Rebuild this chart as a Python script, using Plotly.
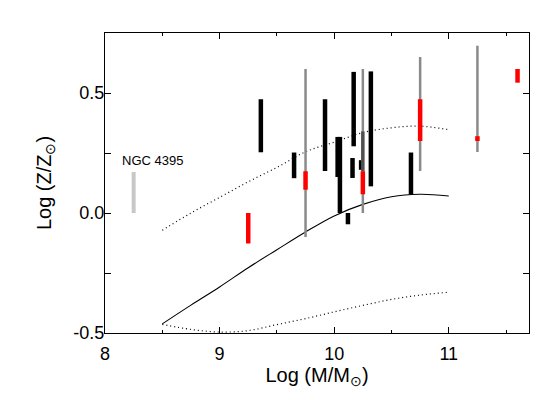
import plotly.graph_objects as go

# ---------------- data ----------------
# model curves (mass-metallicity relation and its spread)
curve_x = [8.5, 8.75, 9.0, 9.25, 9.5, 9.75, 10.0, 10.25, 10.5, 10.75, 11.0]
curve_mid = [-0.462, -0.384, -0.308, -0.228, -0.153, -0.079, -0.012, 0.036, 0.068, 0.078, 0.071]
curve_up = [-0.072, 0.0, 0.065, 0.13, 0.19, 0.255, 0.295, 0.335, 0.355, 0.362, 0.347]
curve_lo = [-0.464, -0.485, -0.496, -0.49, -0.465, -0.44, -0.412, -0.385, -0.36, -0.342, -0.33]

# black ranges
black_x = [9.36, 9.65, 9.92, 10.03, 10.05, 10.12, 10.17, 10.16, 10.32, 10.67, 10.235]
black_lo = [0.253, 0.145, 0.175, 0.15, 0.0, -0.047, 0.278, 0.146, 0.111, 0.077, 0.18]
black_hi = [0.474, 0.252, 0.474, 0.317, 0.317, 0.0, 0.588, 0.229, 0.59, 0.252, 0.22]

# gray ranges
gray_x = [9.75, 10.25, 10.75, 11.25]
gray_lo = [-0.10, 0.0, 0.175, 0.254]
gray_hi = [0.60, 0.60, 0.65, 0.697]

# dark gray range
dgray_x = [10.25]
dgray_lo = [0.174]
dgray_hi = [0.34]

# red ranges
red_x = [9.25, 9.75, 10.25, 10.75, 11.25, 11.6]
red_lo = [-0.127, 0.097, 0.078, 0.30, 0.30, 0.543]
red_hi = [0.0, 0.174, 0.174, 0.474, 0.32, 0.60]

# NGC 4395
ngc_x = [8.25]
ngc_lo = [0.0]
ngc_hi = [0.171]
ngc_label = "NGC 4395"
ngc_label_x = 8.135
ngc_label_y = 0.217

x_tick_vals = [8, 9, 10, 11]
x_tick_text = ["8", "9", "10", "11"]
y_tick_vals = [-0.5, 0.0, 0.5]
y_tick_text = ["-0.5", "0.0", "0.5"]


def segs(xs, lo, hi):
    X, Y = [], []
    for x, a, b in zip(xs, lo, hi):
        X += [x, x, None]
        Y += [a, b, None]
    return X, Y


fig = go.Figure()

fig.add_trace(go.Scatter(x=curve_x, y=curve_up, mode="lines", line_shape="spline",
                         line=dict(color="black", width=1.2, dash="1px,3px")))
fig.add_trace(go.Scatter(x=curve_x, y=curve_lo, mode="lines", line_shape="spline",
                         line=dict(color="black", width=1.2, dash="1px,3px")))
fig.add_trace(go.Scatter(x=curve_x, y=curve_mid, mode="lines", line_shape="spline",
                         line=dict(color="black", width=1.1)))

for xs, lo, hi, col, w in [
    (black_x, black_lo, black_hi, "black", 4.5),
    (gray_x, gray_lo, gray_hi, "#8a8a8a", 2.5),
    (dgray_x, dgray_lo, dgray_hi, "#505050", 3.5),
    (red_x, red_lo, red_hi, "#ff0000", 4.5),
    (ngc_x, ngc_lo, ngc_hi, "#c8c8c8", 4),
]:
    X, Y = segs(xs, lo, hi)
    fig.add_trace(go.Scatter(x=X, y=Y, mode="lines", line=dict(color=col, width=w)))

fig.add_annotation(x=ngc_label_x, y=ngc_label_y, text=ngc_label, showarrow=False,
                   xanchor="left", yanchor="middle",
                   font=dict(size=13, color="black", family="Liberation Sans, Arial"))

# page body has an 8px margin, so the figure is 8px smaller than the window
fig.update_layout(
    width=552, height=392,
    margin=dict(l=97, r=31, t=25, b=67),
    paper_bgcolor="white", plot_bgcolor="white",
    showlegend=False,
    font=dict(family="Liberation Sans, Arial", color="black", size=18),
    xaxis=dict(range=[8, 11.7], showgrid=False, zeroline=False,
               showline=True, linecolor="black", linewidth=1, mirror="ticks",
               ticks="inside", ticklen=6, tickwidth=1, tickcolor="black",
               tickvals=x_tick_vals, ticktext=x_tick_text,
               minor=dict(dtick=0.5, tick0=8, ticks="inside", ticklen=3, tickcolor="black"),
               tickfont=dict(size=18), ticklabelstandoff=4,
               title=dict(text="Log (M/M<sub>⊙</sub>)", font=dict(size=20), standoff=0)),
    yaxis=dict(range=[-0.5, 0.75], showgrid=False, zeroline=False,
               showline=True, linecolor="black", linewidth=1, mirror="ticks",
               ticks="inside", ticklen=6, tickwidth=1, tickcolor="black",
               tickvals=y_tick_vals, ticktext=y_tick_text,
               minor=dict(dtick=0.25, tick0=0, ticks="inside", ticklen=6, tickcolor="black"),
               tickfont=dict(size=18), ticklabelstandoff=-4,
               title=dict(text="Log (Z/Z<sub>⊙</sub>)", font=dict(size=20), standoff=16)),
)

fig.write_html("out.html")
